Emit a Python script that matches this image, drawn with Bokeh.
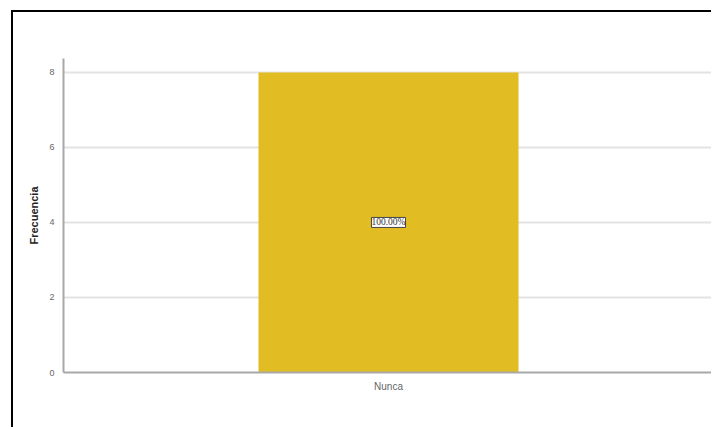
from bokeh.plotting import figure
from bokeh.models import ColumnDataSource, FactorRange, Range1d, LabelSet, FixedTicker
from bokeh.embed import file_html
from bokeh.resources import INLINE

categories = ["Nunca"]
counts = [8]
pct_labels = ["100.00%"]
y_ticks = [0, 2, 4, 6, 8]

src = ColumnDataSource(dict(cat=categories, n=counts, mid=[c / 2 for c in counts], lab=pct_labels))

p = figure(width=700, height=417, output_backend="svg", toolbar_location=None,
           x_range=FactorRange(*categories, range_padding=0), y_range=Range1d(0, 8.37),
           min_border_left=50, min_border_right=0, min_border_top=46, min_border_bottom=57)
p.styles = {"border-top": "2px solid black", "border-left": "2px solid black", "margin": "10px 0 0 11px"}
p.outline_line_color = None
p.background_fill_color = "white"
p.border_fill_color = "white"

p.vbar(x="cat", top="n", width=0.4, source=src, fill_color="#E1BC22", line_color=None)

labels = LabelSet(x="cat", y="mid", text="lab", source=src, text_align="center", text_baseline="middle",
                  text_font_size="9.5px", text_font="Liberation Sans", text_color="#333333",
                  background_fill_color="white", border_line_color="#444444", border_line_width=1)
p.add_layout(labels)

p.yaxis.ticker = FixedTicker(ticks=y_ticks)
p.xgrid.grid_line_color = None
p.ygrid.grid_line_color = "#e3e3e3"
p.ygrid.grid_line_width = 2

for ax in (p.xaxis[0], p.yaxis[0]):
    ax.axis_line_color = "#a8a8a8"
    ax.axis_line_width = 2
    ax.major_tick_line_color = None
    ax.minor_tick_line_color = None
    ax.major_label_text_font = "Liberation Sans"
    ax.major_label_text_color = "#666666"

p.yaxis.major_label_text_font_size = "9px"
p.xaxis.major_label_text_font_size = "10px"

p.yaxis.axis_label = "Frecuencia"
p.yaxis.axis_label_text_font = "Liberation Sans"
p.yaxis.axis_label_text_font_size = "11px"
p.yaxis.axis_label_text_font_style = "bold"
p.yaxis.axis_label_text_color = "#222222"
p.yaxis.axis_label_standoff = 6
p.yaxis.major_label_standoff = 3
p.xaxis.major_label_standoff = 2

open("out.html", "w").write(file_html(p, INLINE))
